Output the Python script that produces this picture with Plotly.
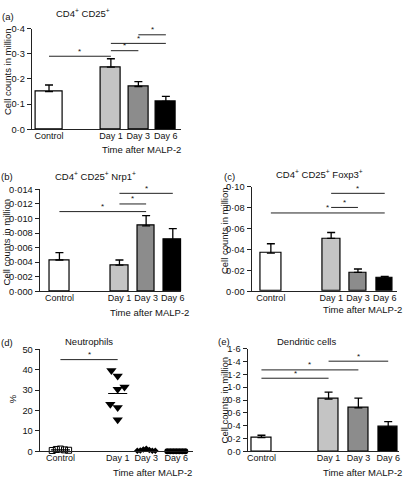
import numpy as np
import plotly.graph_objects as go

W, H = 412, 484
FONT = "Liberation Sans, Arial, Helvetica, sans-serif"

categories = ["Control", "Day 1", "Day 3", "Day 6"]
bar_colors = ["#ffffff", "#c4c4c4", "#8c8c8c", "#000000"]

# (a) CD4+ CD25+
a_mean = [0.150, 0.247, 0.170, 0.111]
a_upper = [0.176, 0.280, 0.189, 0.131]
a_sig_from = [0, 1, 1, 2]
a_sig_to = [1, 2, 3, 3]
a_sig_y = [0.290, 0.312, 0.341, 0.375]
a_tickvals = [0.0, 0.1, 0.2, 0.3, 0.4]
a_ticktext = ["0·0", "0·1", "0·2", "0·3", "0·4"]

# (b) CD4+ CD25+ Nrp1+
b_mean = [0.0043, 0.0036, 0.0090, 0.0071]
b_upper = [0.0053, 0.0043, 0.0104, 0.0086]
b_sig_from = [0, 1, 1]
b_sig_to = [2, 2, 3]
b_sig_y = [0.01095, 0.0120, 0.01346]
b_tickvals = [0.000, 0.002, 0.004, 0.006, 0.008, 0.010, 0.012, 0.014]
b_ticktext = ["0·000", "0·002", "0·004", "0·006", "0·008", "0·010", "0·012", "0·014"]

# (c) CD4+ CD25+ Foxp3+
c_mean = [0.0366, 0.0506, 0.0181, 0.0125]
c_upper = [0.0455, 0.0563, 0.0213, 0.0142]
c_sig_from = [0, 1, 1]
c_sig_to = [3, 2, 3]
c_sig_y = [0.075, 0.0803, 0.0938]
c_tickvals = [0.00, 0.02, 0.04, 0.06, 0.08, 0.10]
c_ticktext = ["0·00", "0·02", "0·04", "0·06", "0·08", "0·10"]

# (d) Neutrophils (%)
d_control = [0.4, 0.9, 1.1, 0.7, 0.5]
d_day1 = [39.6, 36.9, 30.4, 31.6, 23.1, 21.5, 15.5]
d_day3 = [0.2, 0.4, 0.9, 1.3, 0.6, 0.3, 0.2]
d_day6 = [0.0, 0.0, 0.0, 0.0, 0.0, 0.0, 0.0]
d_sig_from = [0]
d_sig_to = [1]
d_sig_y = [45.0]
d_tickvals = [0, 10, 20, 30, 40, 50]
d_ticktext = ["0", "10", "20", "30", "40", "50"]

# (e) Dendritic cells
e_mean = [0.214, 0.815, 0.678, 0.377]
e_upper = [0.250, 0.922, 0.830, 0.464]
e_sig_from = [0, 0, 1]
e_sig_to = [1, 2, 3]
e_sig_y = [1.14, 1.27, 1.406]
e_tickvals = [0.0, 0.2, 0.4, 0.6, 0.8, 1.0, 1.2, 1.4, 1.6]
e_ticktext = ["0·0", "0·2", "0·4", "0·6", "0·8", "1·0", "1·2", "1·4", "1·6"]

# ---------------- layout helpers ----------------
POS = [0.0, 2.25, 3.25, 4.25]
POS_D = [0.0, 2.1, 3.15, 4.25]
jit_control = [-0.3, -0.15, 0.0, 0.15, 0.3]
jit_day1 = [-0.23, 0.0, 0.0, 0.25, -0.27, 0.0, 0.0]
jit_7 = [-0.33, -0.22, -0.11, 0.0, 0.11, 0.22, 0.33]


def px_x(v):
    return v / W


def px_y(v):
    return 1 - v / H


fig = go.Figure()
shapes = []
annotations = []

panels = [
    dict(i=1, xd=(31, 182), yd=(24, 127), xr=(-0.630, 4.809), ymax=0.4,
         tv=a_tickvals, tt=a_ticktext, pos=POS),
    dict(i=2, xd=(39, 182), yd=(188.3, 292.3), xr=(-0.742, 4.566), ymax=0.014,
         tv=b_tickvals, tt=b_ticktext, pos=POS),
    dict(i=3, xd=(253, 400), yd=(185.7, 292.3), xr=(-0.721, 4.712), ymax=0.10,
         tv=c_tickvals, tt=c_ticktext, pos=POS),
    dict(i=4, xd=(39, 194), yd=(351.7, 455.7), xr=(-0.763, 4.867), ymax=50,
         tv=d_tickvals, tt=d_ticktext, pos=POS_D),
    dict(i=5, xd=(249, 402), yd=(351, 455.7), xr=(-0.465, 4.615), ymax=1.6,
         tv=e_tickvals, tt=e_ticktext, pos=POS),
]

layout_axes = {}
for p in panels:
    i = p["i"]
    xn = "xaxis" if i == 1 else f"xaxis{i}"
    yn = "yaxis" if i == 1 else f"yaxis{i}"
    xid = "x" if i == 1 else f"x{i}"
    yid = "y" if i == 1 else f"y{i}"
    layout_axes[xn] = dict(
        domain=[px_x(p["xd"][0]), px_x(p["xd"][1])], range=list(p["xr"]),
        anchor=yid, showline=True, linecolor="#222", linewidth=1,
        tickvals=p["pos"], ticktext=categories, ticks="", ticklen=0,
        showgrid=False, tickangle=0, ticklabelstandoff=-2,
        zeroline=False, tickfont=dict(size=9, color="#111", family=FONT),
        fixedrange=True)
    layout_axes[yn] = dict(
        domain=[px_y(p["yd"][1]), px_y(p["yd"][0])], range=[0, p["ymax"]],
        anchor=xid, showline=True, linecolor="#222", linewidth=1,
        ticks="outside", ticklen=4, tickwidth=1, tickcolor="#222",
        tickvals=p["tv"], ticktext=p["tt"], showgrid=False, zeroline=False,
        ticklabelstandoff=0,
        tickfont=dict(size=9.3, color="#111", family=FONT), fixedrange=True)


def add_bars(i, mean, upper, widths):
    xid = "x" if i == 1 else f"x{i}"
    yid = "y" if i == 1 else f"y{i}"
    fig.add_trace(go.Bar(
        x=POS, y=mean, width=widths, xaxis=xid, yaxis=yid,
        marker=dict(color=bar_colors, line=dict(color="black", width=1.2)),
        error_y=dict(type="data", symmetric=False,
                     array=[u - m for u, m in zip(upper, mean)],
                     arrayminus=[0] * len(mean), color="black",
                     thickness=1.3, width=4),
        showlegend=False, hoverinfo="skip"))


def add_sig(i, pos, froms, tos, ys):
    xid = "x" if i == 1 else f"x{i}"
    yid = "y" if i == 1 else f"y{i}"
    for f, t, yv in zip(froms, tos, ys):
        shapes.append(dict(type="line", xref=xid, yref=yid, x0=pos[f], x1=pos[t],
                           y0=yv, y1=yv, line=dict(color="#222", width=1)))
        annotations.append(dict(x=(pos[f] + pos[t]) / 2, y=yv, xref=xid, yref=yid,
                                text="*", showarrow=False, yshift=5,
                                font=dict(size=8, color="#111", family=FONT)))


add_bars(1, a_mean, a_upper, [0.97, 0.72, 0.72, 0.72])
add_bars(2, b_mean, b_upper, [0.74, 0.66, 0.66, 0.66])
add_bars(3, c_mean, c_upper, [0.80, 0.68, 0.62, 0.6])
add_bars(5, e_mean, e_upper, [0.66, 0.66, 0.66, 0.66])

add_sig(1, POS, a_sig_from, a_sig_to, a_sig_y)
add_sig(2, POS, b_sig_from, b_sig_to, b_sig_y)
add_sig(3, POS, c_sig_from, c_sig_to, c_sig_y)
add_sig(4, POS_D, d_sig_from, d_sig_to, d_sig_y)
add_sig(5, POS, e_sig_from, e_sig_to, e_sig_y)

# (d) scatter
groups = [
    (d_control, jit_control, dict(symbol="square-open", size=6, color="black",
                                  line=dict(width=1, color="black"))),
    (d_day1, jit_day1, dict(symbol="triangle-down", size=9, color="black")),
    (d_day3, jit_7, dict(symbol="diamond", size=5, color="black")),
    (d_day6, jit_7, dict(symbol="circle", size=6, color="black")),
]
for k, (vals, jit, mk) in enumerate(groups):
    xs = [POS_D[k] + j for j in jit[:len(vals)]]
    fig.add_trace(go.Scatter(x=xs, y=vals, mode="markers", xaxis="x4", yaxis="y4",
                             marker=mk, cliponaxis=False, showlegend=False,
                             hoverinfo="skip"))
    m = float(np.mean(vals))
    shapes.append(dict(type="line", xref="x4", yref="y4", x0=POS_D[k] - 0.35,
                       x1=POS_D[k] + 0.35, y0=m, y1=m,
                       line=dict(color="black", width=1.2)))


def text(xp, yp, s, size=10, angle=0):
    annotations.append(dict(x=px_x(xp), y=px_y(yp), xref="paper", yref="paper",
                            text=s, showarrow=False, xanchor="center",
                            yanchor="middle", textangle=angle,
                            font=dict(size=size, color="#111", family=FONT)))


# panel letters
text(7, 12, "(a)", 9.5)
text(6, 175, "(b)", 9.5)
text(231, 175, "(c)", 9.5)
text(6, 345, "(d)", 9.5)
text(225, 344, "(e)", 9.5)

# titles (superscript titles nudged up to keep baseline level)
text(83, 8, "CD4<sup>+</sup> CD25<sup>+</sup>", 9.5)
text(95, 175, "CD4<sup>+</sup> CD25<sup>+</sup> Nrp1<sup>+</sup>", 9.5)
text(322, 173, "CD4<sup>+</sup> CD25<sup>+</sup> Foxp3<sup>+</sup>", 9.5)
text(89, 344, "Neutrophils", 9.5)
text(308, 344, "Dendritic cells", 9.5)

# y titles
text(6, 67.5, "Cell counts in million", 9.5, -90)
text(6, 241.5, "Cell counts in million", 9.5, -90)
text(225, 230, "Cell counts in million", 9.5, -90)
text(12, 401.7, "%", 9.5, -90)
text(226, 403, "Cell counts in million", 9.5, -90)

# x subtitles
text(141.7, 147.5, "Time after MALP-2", 9.5)
text(150, 314, "Time after MALP-2", 9.5)
text(365, 310.5, "Time after MALP-2", 9.5)
text(153, 477, "Time after MALP-2", 9.5)
text(365, 477, "Time after MALP-2", 9.5)

fig.update_layout(
    width=W, height=H, margin=dict(l=0, r=0, t=0, b=0),
    paper_bgcolor="white", plot_bgcolor="white",
    font=dict(family=FONT, size=10, color="#111"),
    shapes=shapes, annotations=annotations, bargap=0, showlegend=False,
    **layout_axes)

fig.write_html(
    "out.html", config={"displayModeBar": False},
    post_script="document.body.style.margin='0';document.body.style.padding='0';"
                "document.documentElement.style.overflow='hidden';")
